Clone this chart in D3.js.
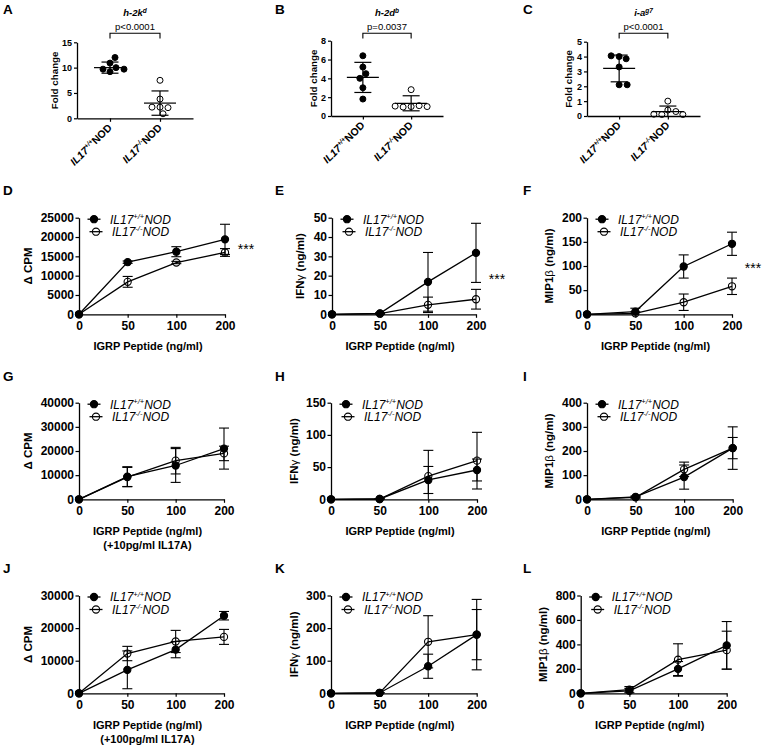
<!DOCTYPE html>
<html><head><meta charset="utf-8">
<script src="https://cdn.jsdelivr.net/npm/d3@7"></script>
<style>
body{margin:0;background:#fff}
svg{display:block;font-family:"Liberation Sans",Arial,Helvetica,sans-serif}
</style></head><body>
<svg id="fig" width="767" height="747"></svg>
<script>
// ---------- DATA ----------
const groups = ["IL17+/+NOD", "IL17-/-NOD"];
const groupSup = ["+/+", "-/-"];

const A_wt = [10.9, 9.2, 10.0, 12.0, 9.7, 9.7];
const A_ko = [7.5, 3.8, 2.2, 2.1, 2.2, 0.9];
const A_mean = [10.0, 3.0], A_sd = [1.1, 2.4];
const A_ticks = [0, 5, 10, 15];

const B_wt = [6.4, 5.2, 4.5, 4.0, 3.0, 1.8];
const B_ko = [2.8, 1.0, 1.1, 0.95, 1.0, 1.05];
const B_mean = [4.1, 1.35], B_sd = [1.6, 0.8];
const B_ticks = [0, 2, 4, 6, 8];

const C_wt = [4.0, 3.85, 4.05, 3.3, 2.1, 2.1];
const C_ko = [1.0, 0.4, 0.3, 0.1, 0.12, 0.1];
const C_mean = [3.2, 0.3], C_sd = [0.9, 0.37];
const C_ticks = [0, 1, 2, 3, 4, 5];

const doses = ["0", "50", "100", "200"];

const D_wt = [0, 13500, 16200, 19400], D_wt_sd = [0, 300, 1300, 3900];
const D_ko = [0, 8400, 13400, 16000],  D_ko_sd = [0, 1400, 300, 1000];
const E_wt = [0, 0.5, 16.8, 31.8], E_wt_sd = [0, 0.3, 15.2, 15.3];
const E_ko = [0, 0.3, 4.9, 7.8],   E_ko_sd = [0, 0.2, 4.0, 5.1];
const F_wt = [0, 5.6, 99, 146], F_wt_sd = [0, 7, 24, 24];
const F_ko = [0, 2, 25, 58],    F_ko_sd = [0, 3, 17, 17];

const G_wt = [0, 9400, 14000, 21000], G_wt_sd = [0, 4100, 7000, 8500];
const G_ko = [0, 9200, 16000, 19000], G_ko_sd = [0, 4000, 5500, 3000];
const H_wt = [0, 0.5, 30, 45.5], H_wt_sd = [0, 0.5, 21, 17];
const H_ko = [0, 0.5, 36, 60],   H_ko_sd = [0, 0.3, 40, 44];
const I_wt = [0, 10, 92, 212], I_wt_sd = [0, 4, 50, 88];
const I_ko = [0, 8, 124, 212], I_ko_sd = [0, 3, 30, 44];

const J_wt = [0, 7200, 13400, 23800],  J_wt_sd = [0, 5800, 2500, 1300];
const J_ko = [0, 12200, 15900, 17300], J_ko_sd = [0, 2200, 3400, 2300];
const K_wt = [0, 1, 83, 180],  K_wt_sd = [0, 1, 37, 108];
const K_ko = [0, 1, 158, 180], K_ko_sd = [0, 1, 80, 77];
const L_wt = [0, 20, 200, 392], L_wt_sd = [0, 20, 60, 195];
const L_ko = [0, 30, 275, 353], L_ko_sd = [0, 25, 130, 155];

// ---------- DRAWING ----------
const svg = d3.select("#fig");
const INK = "#000";

function letter(t, x, y) {
  svg.append("text").attr("x", x).attr("y", y).attr("font-size", 13.5)
    .attr("font-weight", "bold").attr("fill", INK).text(t);
}
function genoText(sel, sup, fs, italicAll) {
  sel.append("tspan").attr("font-style", "italic").text("IL17");
  sel.append("tspan").attr("font-size", fs * 0.62).attr("dy", -fs * 0.38)
    .attr("font-style", "italic").text(sup);
  sel.append("tspan").attr("dy", fs * 0.38)
    .attr("font-style", italicAll ? "italic" : "normal").text("NOD");
}
function styleAxis(a, fs, bold) {
  a.selectAll("path.domain").attr("stroke", INK).attr("stroke-width", 1.3);
  a.selectAll(".tick line").attr("stroke", INK).attr("stroke-width", 1.2);
  a.selectAll(".tick text").attr("fill", INK).attr("font-size", fs)
    .attr("font-weight", bold ? "bold" : "normal")
    .attr("font-family", '"Liberation Sans",Arial,sans-serif');
}

// simple greedy beeswarm in pixel space
function swarm(vals, y, r) {
  const placed = [];
  const minD = 2 * r + 1.2;
  return vals.map(v => {
    const py = y(v);
    let dx = 0;
    for (let k = 0; k < 80; k++) {
      const cand = k === 0 ? 0 : (k % 2 ? 1 : -1) * Math.ceil(k / 2);
      const ok = placed.every(p => Math.hypot(p.dx - cand, p.py - py) >= minD);
      if (ok) { dx = cand; break; }
    }
    placed.push({dx, py});
    return {v, dx, py};
  });
}

function scatterPanel(p) {
  const g = svg.append("g");
  const x = d3.scalePoint().domain(groups).range([p.x0, p.xEnd]).padding(0.66);
  const y = d3.scaleLinear().domain([0, p.max]).range([p.y0, p.yTop]);

  const ya = g.append("g").attr("transform", `translate(${p.x0},0)`)
    .call(d3.axisLeft(y).tickValues(p.ticks).tickFormat(d3.format("d"))
      .tickSize(3).tickSizeOuter(0).tickPadding(2));
  styleAxis(ya, 9, true);

  const xa = g.append("g").attr("transform", `translate(0,${p.y0})`)
    .call(d3.axisBottom(x).tickSize(3.5).tickSizeOuter(0));
  styleAxis(xa, 10.5, true);
  xa.selectAll(".tick text").each(function(d, i) {
    const t = d3.select(this);
    t.text(null).attr("text-anchor", "end").attr("dy", null).attr("y", null)
      .attr("transform", `translate(2,10) rotate(-45)`);
    genoText(t, groupSup[i], 10.5, false);
  });

  // y title
  g.append("text").attr("transform", `translate(${p.x0 - p.ttlOff},${(p.y0 + p.yTop) / 2}) rotate(-90)`)
    .attr("text-anchor", "middle").attr("font-size", 9.8).attr("font-weight", "bold")
    .attr("fill", INK).text("Fold change");

  const r = 3;
  [p.wt, p.ko].forEach((vals, gi) => {
    const cx = x(groups[gi]);
    const pts = swarm(vals, y, r);
    g.append("g").selectAll("circle").data(pts).join("circle")
      .attr("cx", d => cx + d.dx).attr("cy", d => d.py).attr("r", r)
      .attr("fill", gi === 0 ? INK : "none").attr("stroke", INK).attr("stroke-width", 1);
    // mean & SD
    const m = p.mean[gi], s = p.sd[gi];
    const lg = g.append("g").attr("stroke", INK).attr("stroke-width", 1.2);
    lg.append("line").attr("x1", cx - 16).attr("x2", cx + 16).attr("y1", y(m)).attr("y2", y(m));
    lg.append("line").attr("x1", cx).attr("x2", cx).attr("y1", y(Math.max(0, m - s))).attr("y2", y(m + s));
    lg.append("line").attr("x1", cx - 8.5).attr("x2", cx + 8.5).attr("y1", y(m + s)).attr("y2", y(m + s));
    if (m - s > 0)
      lg.append("line").attr("x1", cx - 8.5).attr("x2", cx + 8.5).attr("y1", y(m - s)).attr("y2", y(m - s));
  });

  // bracket + p value
  const c1 = x(groups[0]), c2 = x(groups[1]);
  g.append("path").attr("d", `M${c1},38.5V33.2H${c2}V38.5`).attr("fill", "none")
    .attr("stroke", INK).attr("stroke-width", 1.1);
  g.append("text").attr("x", (c1 + c2) / 2).attr("y", 30).attr("text-anchor", "middle")
    .attr("font-size", 9.5).attr("fill", INK).text(p.pval);
  // title
  const tt = g.append("text").attr("x", (c1 + c2) / 2).attr("y", 16).attr("text-anchor", "middle")
    .attr("font-size", 9.5).attr("font-weight", "bold").attr("font-style", "italic").attr("fill", INK);
  tt.append("tspan").text(p.title);
  tt.append("tspan").attr("font-size", 6.5).attr("dy", -3.5).text(p.titleSup);
}

function linePanel(p) {
  const g = svg.append("g");
  const x = d3.scalePoint().domain(doses).range([p.x0, p.x1]);
  const y = d3.scaleLinear().domain([0, p.max]).range([p.y0, p.yTop]).clamp(true);

  const ya = g.append("g").attr("transform", `translate(${p.x0},0)`)
    .call(d3.axisLeft(y).tickValues(d3.range(0, p.max + p.step / 2, p.step))
      .tickFormat(d3.format("d")).tickSize(3.5).tickSizeOuter(0).tickPadding(1.5));
  styleAxis(ya, 12, true);
  const xa = g.append("g").attr("transform", `translate(0,${p.y0})`)
    .call(d3.axisBottom(x).tickSize(3.5).tickSizeOuter(0).tickPadding(3.5));
  styleAxis(xa, 12, true);

  // y title
  const yt = g.append("text")
    .attr("transform", `translate(${p.x0 - p.ttlOff},${(p.y0 + p.yTop) / 2}) rotate(-90)`)
    .attr("text-anchor", "middle").attr("font-size", 11.5).attr("font-weight", "bold").attr("fill", INK);
  p.ytitle.forEach(part => {
    const ts = yt.append("tspan").text(part.t);
    if (part.greek) ts.attr("font-weight", "normal");
  });
  // x title
  const xc = (p.x0 + p.x1) / 2 - 4;
  p.xtitle.forEach((line, i) => {
    g.append("text").attr("x", xc).attr("y", p.y0 + 35.5 + i * 14).attr("text-anchor", "middle")
      .attr("font-size", 11).attr("font-weight", "bold").attr("fill", INK).text(line);
  });

  const series = [
    {v: p.wt, e: p.wtsd, filled: true},
    {v: p.ko, e: p.kosd, filled: false}
  ];
  const line = d3.line().x((d, i) => x(doses[i])).y(d => y(d));
  series.forEach(s => {
    g.append("path").attr("d", line(s.v)).attr("fill", "none").attr("stroke", INK).attr("stroke-width", 1.3);
  });
  series.forEach(s => {
    const eg = g.append("g").attr("stroke", INK).attr("stroke-width", 1.1);
    s.v.forEach((v, i) => {
      const e = s.e[i];
      if (!e) return;
      const cx = x(doses[i]);
      eg.append("line").attr("x1", cx).attr("x2", cx).attr("y1", y(v - e)).attr("y2", y(v + e));
      eg.append("line").attr("x1", cx - 5).attr("x2", cx + 5).attr("y1", y(v + e)).attr("y2", y(v + e));
      if (v - e > 0)
        eg.append("line").attr("x1", cx - 5).attr("x2", cx + 5).attr("y1", y(v - e)).attr("y2", y(v - e));
    });
  });
  series.forEach(s => {
    g.append("g").selectAll("circle").data(s.v).join("circle")
      .attr("cx", (d, i) => x(doses[i])).attr("cy", d => y(d)).attr("r", 3.6)
      .attr("fill", s.filled ? INK : "none").attr("stroke", INK).attr("stroke-width", 1.1);
  });

  // legend
  [0, 1].forEach(i => {
    const cx = p.x0 + 15 + i * 2, cy = p.yTop + 1.5 + i * 12.5;
    g.append("line").attr("x1", cx - 6.5).attr("x2", cx + 6.5).attr("y1", cy).attr("y2", cy)
      .attr("stroke", INK).attr("stroke-width", 1.3);
    g.append("circle").attr("cx", cx).attr("cy", cy).attr("r", 3.6)
      .attr("fill", i === 0 ? INK : "none").attr("stroke", INK).attr("stroke-width", 1.1);
    const t = g.append("text").attr("x", cx + 16).attr("y", cy + 4.3).attr("font-size", 12)
      .attr("fill", INK).attr("font-style", "italic");
    genoText(t, groupSup[i], 12, true);
  });

  if (p.sig) {
    const my = y((p.wt[3] + p.ko[3]) / 2);
    g.append("text").attr("x", p.x1 + 21).attr("y", my + 8).attr("text-anchor", "middle")
      .attr("font-size", 14).attr("fill", INK).text(p.sig);
  }
}

// ----- letters -----
letter("A", 3, 14); letter("B", 275, 14); letter("C", 523, 14);
letter("D", 3, 195); letter("E", 275, 195); letter("F", 523, 195);
letter("G", 3, 381); letter("H", 275, 381); letter("I", 523, 381);
letter("J", 3, 573); letter("K", 275, 573); letter("L", 523, 573);

// ----- row 1 -----
scatterPanel({x0: 77, xEnd: 193, y0: 118.3, yTop: 42.3, max: 15, ticks: A_ticks, ttlOff: 19,
  wt: A_wt, ko: A_ko, mean: A_mean, sd: A_sd, pval: "p<0.0001", title: "h-2k", titleSup: "d"});
scatterPanel({x0: 331, xEnd: 443, y0: 116, yTop: 40.7, max: 8, ticks: B_ticks, ttlOff: 14.5,
  wt: B_wt, ko: B_ko, mean: B_mean, sd: B_sd, pval: "p=0.0037", title: "h-2d", titleSup: "b"});
scatterPanel({x0: 587, xEnd: 700, y0: 116, yTop: 41.7, max: 5, ticks: C_ticks, ttlOff: 15,
  wt: C_wt, ko: C_ko, mean: C_mean, sd: C_sd, pval: "p<0.0001", title: "i-a", titleSup: "g7"});

const cpmTitle = [{t: "\u0394 CPM"}];
const ifnTitle = [{t: "IFN"}, {t: "\u03b3", greek: true}, {t: " (ng/ml)"}];
const mipTitle = [{t: "MIP1"}, {t: "\u03b2", greek: true}, {t: " (ng/ml)"}];
const xt1 = ["IGRP Peptide (ng/ml)"];

// ----- row 2 -----
linePanel({x0: 79, x1: 225, yTop: 217.7, y0: 314.3, max: 25000, step: 5000, ttlOff: 47,
  ytitle: cpmTitle, xtitle: xt1, wt: D_wt, wtsd: D_wt_sd, ko: D_ko, kosd: D_ko_sd, sig: "***"});
linePanel({x0: 332, x1: 476, yTop: 217.7, y0: 314.3, max: 50, step: 10, ttlOff: 28,
  ytitle: ifnTitle, xtitle: xt1, wt: E_wt, wtsd: E_wt_sd, ko: E_ko, kosd: E_ko_sd, sig: "***"});
linePanel({x0: 587, x1: 732, yTop: 217.7, y0: 314.3, max: 200, step: 50, ttlOff: 34,
  ytitle: mipTitle, xtitle: xt1, wt: F_wt, wtsd: F_wt_sd, ko: F_ko, kosd: F_ko_sd, sig: "***"});

// ----- row 3 -----
linePanel({x0: 79, x1: 224, yTop: 402.7, y0: 499.3, max: 40000, step: 10000, ttlOff: 47,
  ytitle: cpmTitle, xtitle: ["IGRP Peptide (ng/ml)", "(+10pg/ml IL17A)"],
  wt: G_wt, wtsd: G_wt_sd, ko: G_ko, kosd: G_ko_sd});
linePanel({x0: 331, x1: 477, yTop: 402.7, y0: 499.3, max: 150, step: 50, ttlOff: 33,
  ytitle: ifnTitle, xtitle: xt1, wt: H_wt, wtsd: H_wt_sd, ko: H_ko, kosd: H_ko_sd});
linePanel({x0: 587, x1: 732.7, yTop: 402.7, y0: 499.3, max: 400, step: 100, ttlOff: 34,
  ytitle: mipTitle, xtitle: xt1, wt: I_wt, wtsd: I_wt_sd, ko: I_ko, kosd: I_ko_sd});

// ----- row 4 -----
linePanel({x0: 79, x1: 224, yTop: 595.5, y0: 693.3, max: 30000, step: 10000, ttlOff: 47,
  ytitle: cpmTitle, xtitle: ["IGRP Peptide (ng/ml)", "(+100pg/ml IL17A)"],
  wt: J_wt, wtsd: J_wt_sd, ko: J_ko, kosd: J_ko_sd});
linePanel({x0: 331, x1: 476.7, yTop: 595.5, y0: 693.3, max: 300, step: 100, ttlOff: 33,
  ytitle: ifnTitle, xtitle: xt1, wt: K_wt, wtsd: K_wt_sd, ko: K_ko, kosd: K_ko_sd});
linePanel({x0: 580.7, x1: 726.7, yTop: 595.5, y0: 693.3, max: 800, step: 200, ttlOff: 34,
  ytitle: mipTitle, xtitle: xt1, wt: L_wt, wtsd: L_wt_sd, ko: L_ko, kosd: L_ko_sd});
</script>
</body></html>
